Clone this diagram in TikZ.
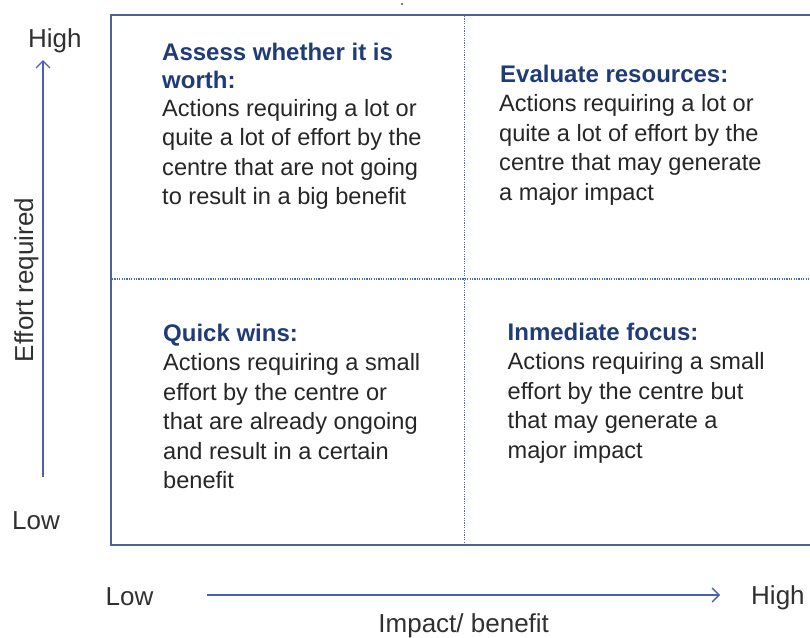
\documentclass[tikz,border=0pt]{standalone}
\usepackage{fontspec}
\setmainfont{Liberation Sans}
\usetikzlibrary{arrows.meta}
\definecolor{framecol}{HTML}{4A6494}
\definecolor{dividercol}{HTML}{4868C0}
\definecolor{axiscol}{HTML}{4A5FB5}
\definecolor{titleblue}{HTML}{1F3C78}
\definecolor{bodytext}{HTML}{262626}
\definecolor{labeltext}{HTML}{303030}
\begin{document}
\begin{tikzpicture}[x=1pt,y=-1pt,
  qtitle/.style={anchor=base west, inner sep=0pt, align=left,
    font=\fontsize{24}{28}\selectfont\bfseries, text=titleblue},
  qbody/.style={anchor=base west, inner sep=0pt, align=left,
    font=\fontsize{23.6}{29.5}\selectfont, text=bodytext},
  axlabel/.style={inner sep=0pt, font=\fontsize{26}{30}\selectfont, text=labeltext},
  axisarrow/.style={draw=axiscol, line width=1.4pt,
    -{Straight Barb[length=7pt,width=14pt]}},
  dividerline/.style={draw=dividercol, line width=1.2pt, dash pattern=on 1.2pt off 1.2pt},
  frameline/.style={draw=framecol, line width=2pt}
]
\useasboundingbox (0,0) rectangle (810,637);

% frame (right side runs off the picture)
\coordinate (ftr) at (812,15);
\coordinate (ftl) at (111,15);
\coordinate (fbl) at (111,545);
\coordinate (fbr) at (812,545);
\draw[frameline] (ftr) -- (ftl) -- (fbl) -- (fbr);

% dotted dividers
\coordinate (vtop) at (464.5,16);
\coordinate (vbot) at (464.5,544);
\coordinate (hleft) at (112,279);
\coordinate (hright) at (810,279);
\draw[dividerline] (vtop) -- (vbot);
\draw[dividerline] (hleft) -- (hright);

% small stray dot
\fill[black!70] (402,4) circle (1.2pt);

% quadrant texts (a multi-line node's base is the baseline of its last line)
\node[qtitle] (tltitle) at (162,88) {Assess whether it is\\worth:};
\node[qbody] (tlbody) at (162,204.5) {Actions requiring a lot or\\quite a lot of effort by the\\centre that are not going\\to result in a big benefit};

\node[qtitle] (trtitle) at (500,82) {Evaluate resources:};
\node[qbody] (trbody) at (499,200) {Actions requiring a lot or\\quite a lot of effort by the\\centre that may generate\\a major impact};

\node[qtitle] (bltitle) at (163,341.5) {Quick wins:};
\node[qbody] (blbody) at (163,488.5) {Actions requiring a small\\effort by the centre or\\that are already ongoing\\and result in a certain\\benefit};

\node[qtitle] (brtitle) at (507.5,340) {Inmediate focus:};
\node[qbody] (brbody) at (507.5,458) {Actions requiring a small\\effort by the centre but\\that may generate a\\major impact};

% vertical axis
\coordinate (ylow) at (43,477);
\coordinate (yhigh) at (43,60);
\draw[axisarrow] (ylow) -- (yhigh);
\node[axlabel, anchor=base west] (yhighlab) at (28,47) {High};
\node[axlabel, anchor=base west] (ylowlab) at (12,529) {Low};
\node[axlabel, anchor=base, rotate=90] (ytitle) at (33,280) {Effort required};

% horizontal axis
\coordinate (xlow) at (207,595);
\coordinate (xhigh) at (720,595);
\draw[axisarrow] (xlow) -- (xhigh);
\node[axlabel, anchor=base west] (xlowlab) at (105.5,605) {Low};
\node[axlabel, anchor=base west] (xhighlab) at (751,604) {High};
\node[axlabel, anchor=base] (xtitle) at (463.7,632.5) {Impact/ benefit};
\end{tikzpicture}
\end{document}
